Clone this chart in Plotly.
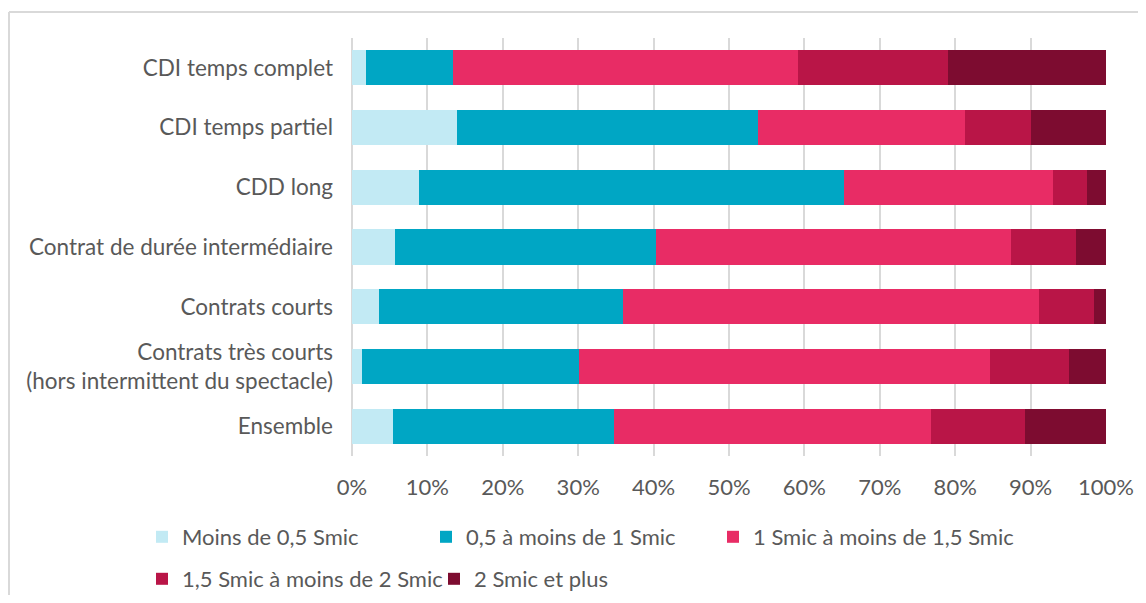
import plotly.graph_objects as go

categories = [
    "CDI temps complet",
    "CDI temps partiel",
    "CDD long",
    "Contrat de durée intermédiaire",
    "Contrats courts",
    "Contrats très courts<br>(hors intermittent du spectacle)",
    "Ensemble",
]

series_names = [
    "Moins de 0,5 Smic",
    "0,5 à moins de 1 Smic",
    "1 Smic à moins de 1,5 Smic",
    "1,5 Smic à moins de 2 Smic",
    "2 Smic et plus",
]

moins_05 = [1.8, 13.9, 8.9, 5.7, 3.6, 1.3, 5.4]
de_05_a_1 = [11.6, 39.9, 56.3, 34.6, 32.4, 28.8, 29.3]
de_1_a_15 = [45.7, 27.5, 27.8, 47.1, 55.1, 54.5, 42.1]
de_15_a_2 = [19.9, 8.8, 4.5, 8.6, 7.3, 10.5, 12.4]
plus_2 = [21.0, 9.9, 2.5, 4.0, 1.6, 4.9, 10.8]

series_values = [moins_05, de_05_a_1, de_1_a_15, de_15_a_2, plus_2]
colors = ["#C2EAF4", "#00A6C4", "#E82C65", "#B91547", "#7D0C30"]

# page offset (body margin) and geometry in page px
OFF = 8
W, H = 1146 - 2 * OFF, 603 - 2 * OFF
L, R, T, B = 352, 1106, 38, 456
pw, ph = R - L, B - T

def px_x(x):
    return (x - L) / pw

def px_y(y):
    return (B - y) / ph

legend_pos = [(142, 537), (426, 537), (713, 537), (142, 579), (434, 579)]

fig = go.Figure()
for i, (name, vals, col) in enumerate(zip(series_names, series_values, colors)):
    lname = "legend" if i == 0 else f"legend{i+1}"
    fig.add_trace(go.Bar(
        y=categories,
        x=[v / 100 for v in vals],
        name=name,
        orientation="h",
        marker=dict(color=col, line=dict(width=0)),
        legend=lname,
        hovertemplate="%{y}: %{x:.1%}<extra>" + name + "</extra>",
    ))

font_family = "Lato, 'Open Sans', sans-serif"
legends = {}
for i, (lx, ly) in enumerate(legend_pos):
    lname = "legend" if i == 0 else f"legend{i+1}"
    legends[lname] = dict(
        x=px_x(lx), y=px_y(ly), xanchor="left", yanchor="middle",
        orientation="h", bgcolor="rgba(0,0,0,0)",
        font=dict(family=font_family, size=22, color="#595959"),
        itemclick=False, itemdoubleclick=False,
    )

fig.update_layout(
    width=W, height=H,
    barmode="stack",
    bargap=0.41,
    plot_bgcolor="white",
    paper_bgcolor="white",
    margin=dict(l=L - OFF, r=W - (R - OFF), t=T - OFF, b=H - (B - OFF), autoexpand=False),
    font=dict(family=font_family, size=22, color="#595959"),
    showlegend=True,
    **legends,
    xaxis=dict(
        range=[0, 1], dtick=0.1, tickformat=".0%",
        showgrid=True, gridcolor="#D9D9D9", gridwidth=2,
        zeroline=True, zerolinecolor="#D9D9D9", zerolinewidth=2,
        showline=False, ticks="", ticklabelstandoff=16,
        tickfont=dict(size=22, color="#595959"),
    ),
    yaxis=dict(
        autorange="reversed", showgrid=False, ticks="",
        ticklabelstandoff=18,
        tickfont=dict(size=22.5, color="#595959"),
    ),
    shapes=[
        dict(type="line", xref="paper", yref="paper",
             x0=px_x(9), x1=px_x(1160), y0=px_y(12), y1=px_y(12),
             line=dict(color="#D9D9D9", width=2)),
        dict(type="line", xref="paper", yref="paper",
             x0=px_x(9), x1=px_x(9), y0=px_y(12), y1=px_y(620),
             line=dict(color="#D9D9D9", width=2)),
    ],
)

fig.write_html("out.html")
